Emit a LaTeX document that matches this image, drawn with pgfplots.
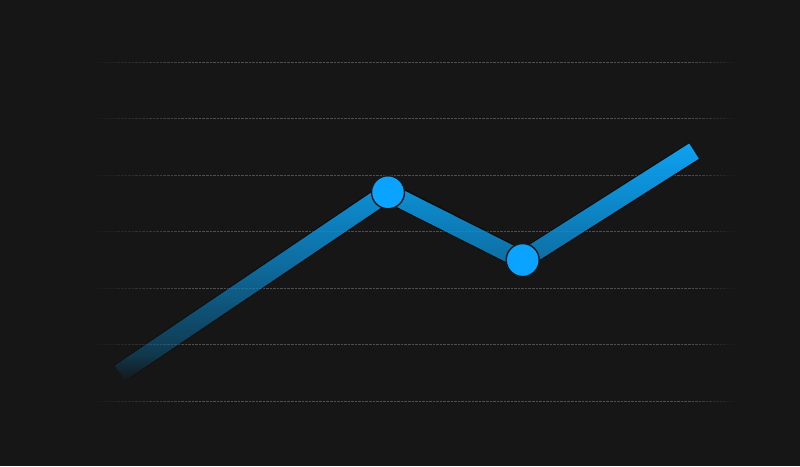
\documentclass[border=0pt]{standalone}
\usepackage{pgfplots}
\pgfplotsset{compat=1.18}
\usetikzlibrary{fadings}

\definecolor{bg}{HTML}{161616}
\definecolor{gridgray}{HTML}{4E4E4E}
\definecolor{lineblue}{HTML}{0EA2F2}
\definecolor{markblue}{HTML}{0AA3FF}

% grid lines fade out at both ends
\pgfdeclarehorizontalshading{gridshade}{100bp}{color(0bp)=(black); color(30.6bp)=(black);
  color(37bp)=(white); color(68bp)=(white); color(71bp)=(black); color(100bp)=(black)}
\tikzfading[name=gridfade, shading=gridshade]

% the line gets darker towards the bottom
\pgfdeclareverticalshading{lineshade}{100bp}{color(0bp)=(black); color(25bp)=(black);
  color(31bp)=(white!27!black); color(43.5bp)=(white!52!black); color(50bp)=(white!65!black);
  color(65bp)=(white!87!black); color(75bp)=(white); color(100bp)=(white)}
\tikzfading[name=linefade, shading=lineshade]

\begin{document}
\begin{tikzpicture}
  \begin{axis}[
      ,width           = 800bp
      ,height          = 466bp
      ,scale only axis
      ,xmin            = 0
      ,xmax            = 800
      ,ymin            = -1.145
      ,ymax            = 7.103
      ,axis line style = {draw=none}
      ,tick style      = {draw=none}
      ,xtick           = \empty
      ,ytick           = {0,1,2,3,4,5,6}
      ,yticklabels     = {}
      ,ymajorgrids     = true
      ,grid style      = {densely dotted, color=gridgray, line width=1bp, path fading=gridfade, fit fading=true}
      ,axis background/.style = {fill=bg}
      ]
    % soft dark edge under the line, fading like the line
    \addplot [color=black, opacity=0.5, line width=20.5bp, line join=round, path fading=linefade, fit fading=true]
      coordinates {(120,0.50) (388,3.70) (522.7,2.50) (694.5,4.43)};
    \addplot [color=lineblue, line width=18bp, line join=round, path fading=linefade, fit fading=true]
      coordinates {(120,0.50) (388,3.70) (522.7,2.50) (694.5,4.43)};
    \addplot [only marks, mark=*, mark size=16.5bp, color=markblue,
              mark options={draw=black!90, line width=1.4bp}]
      coordinates {(388,3.70) (522.7,2.50)};
  \end{axis}
  \pgfresetboundingbox
  \path (current axis.south west) rectangle (current axis.north east);
\end{tikzpicture}
\end{document}
